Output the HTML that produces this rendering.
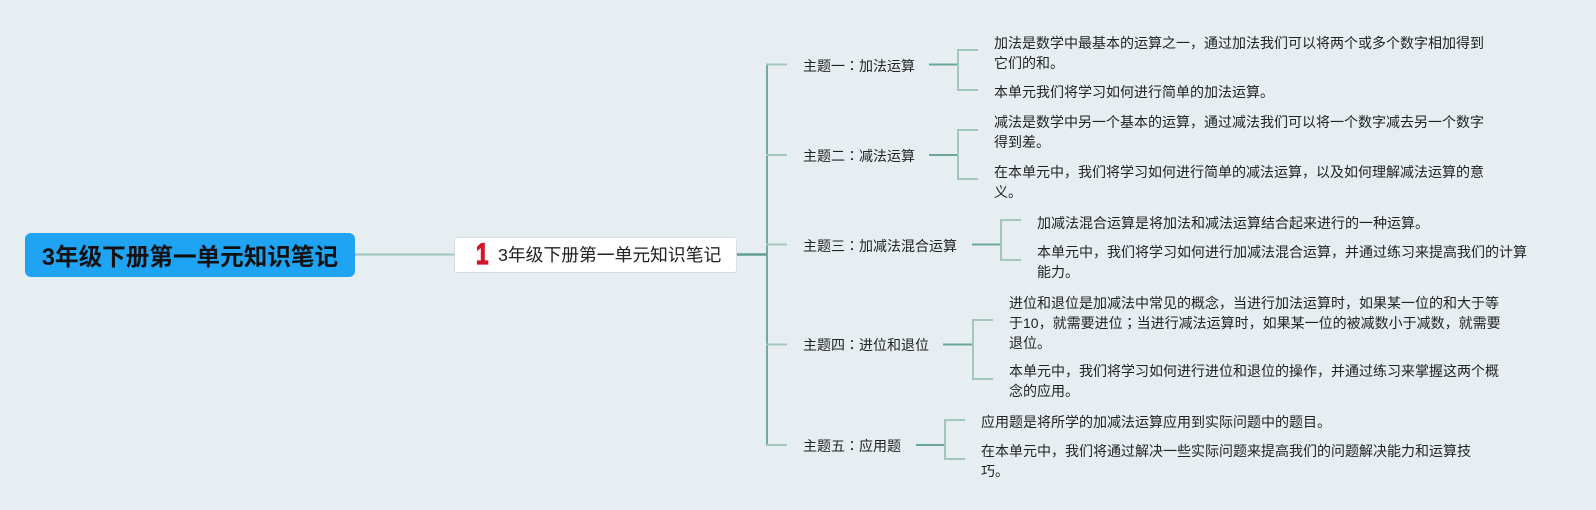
<!DOCTYPE html>
<html>
<head>
<meta charset="utf-8">
<style>
  html,body{margin:0;padding:0;}
  body{width:1596px;height:510px;background:#e7eef2;position:relative;overflow:hidden;
       font-family:"Liberation Sans","Noto Sans CJK SC",sans-serif;color:#222;}
  svg{position:absolute;left:0;top:0;}
  .t{position:absolute;font-size:14px;line-height:20px;white-space:nowrap;color:#222;}
  .p{font-family:"Noto Sans CJK JP","Noto Sans CJK SC",sans-serif;}
  .root{position:absolute;left:25px;top:233px;width:330px;height:44px;background:#1fa4f4;border-radius:6px;
        display:flex;align-items:center;justify-content:center;font-weight:bold;font-size:23.6px;color:#111;white-space:nowrap;}
  .sub{position:absolute;left:454px;top:237px;width:281px;height:34px;background:#fff;border:1px solid #d6dce0;border-radius:3px;
       box-sizing:content-box;}
  .sub .one{position:absolute;left:21px;top:2px;font-family:"Liberation Sans",sans-serif;font-weight:bold;font-size:30px;line-height:30px;color:#d4142b;
            -webkit-text-stroke:1.2px #d4142b;transform:scaleX(0.75);transform-origin:left top;}
  .sub .txt{position:absolute;left:43px;top:5px;font-size:17.8px;line-height:24px;color:#222;white-space:nowrap;}
</style>
</head>
<body>
<svg width="1596" height="510" viewBox="0 0 1596 510">
  <g fill="none" stroke-linecap="butt">
    <line x1="355" y1="254.5" x2="454" y2="254.5" stroke="#9fc4bb" stroke-width="2"/>
    <line x1="736" y1="254.5" x2="768" y2="254.5" stroke="#5f9e8e" stroke-width="2.5"/>
    <line x1="767" y1="63.5" x2="767" y2="446" stroke="#74aa9c" stroke-width="2"/>
    <g stroke="#a3c6bd" stroke-width="2">
      <line x1="766" y1="64.5" x2="787" y2="64.5"/>
      <line x1="766" y1="155" x2="787" y2="155"/>
      <line x1="766" y1="244.5" x2="787" y2="244.5"/>
      <line x1="766" y1="344.5" x2="787" y2="344.5"/>
      <line x1="766" y1="445" x2="787" y2="445"/>
    </g>
    <g stroke="#6ba698" stroke-width="2">
      <line x1="929" y1="64.5" x2="958" y2="64.5"/>
      <line x1="929" y1="155" x2="958" y2="155"/>
      <line x1="972" y1="244.5" x2="1001" y2="244.5"/>
      <line x1="943" y1="344.5" x2="973" y2="344.5"/>
      <line x1="916" y1="445" x2="945" y2="445"/>
    </g>
    <g stroke="#a3c6bd" stroke-width="2">
      <polyline points="978,50 958,50 958,90 978,90"/>
      <polyline points="978,130 958,130 958,179 978,179"/>
      <polyline points="1021,220 1001,220 1001,260 1021,260"/>
      <polyline points="993,320 973,320 973,379 993,379"/>
      <polyline points="965,420 945,420 945,459 965,459"/>
    </g>
  </g>
</svg>

<div class="root">3年级下册第一单元知识笔记</div>

<div class="sub">
  <div class="one">1</div>
  <div class="txt">3年级下册第一单元知识笔记</div>
</div>

<div class="t" style="left:803px;top:56px;">主题一<span class="p">：</span>加法运算</div>
<div class="t" style="left:803px;top:146px;">主题二<span class="p">：</span>减法运算</div>
<div class="t" style="left:803px;top:235.5px;">主题三<span class="p">：</span>加减法混合运算</div>
<div class="t" style="left:803px;top:335px;">主题四<span class="p">：</span>进位和退位</div>
<div class="t" style="left:803px;top:436px;">主题五<span class="p">：</span>应用题</div>

<div class="t" style="left:994px;top:32.7px;">加法是数学中最基本的运算之一，通过加法我们可以将两个或多个数字相加得到</div>
<div class="t" style="left:994px;top:52.7px;">它们的和。</div>
<div class="t" style="left:994px;top:81.7px;">本单元我们将学习如何进行简单的加法运算。</div>

<div class="t" style="left:994px;top:111.7px;">减法是数学中另一个基本的运算，通过减法我们可以将一个数字减去另一个数字</div>
<div class="t" style="left:994px;top:131.7px;">得到差。</div>
<div class="t" style="left:994px;top:161.7px;">在本单元中，我们将学习如何进行简单的减法运算，以及如何理解减法运算的意</div>
<div class="t" style="left:994px;top:181.7px;">义。</div>

<div class="t" style="left:1037px;top:212.7px;">加减法混合运算是将加法和减法运算结合起来进行的一种运算。</div>
<div class="t" style="left:1037px;top:242px;">本单元中，我们将学习如何进行加减法混合运算，并通过练习来提高我们的计算</div>
<div class="t" style="left:1037px;top:262px;">能力。</div>

<div class="t" style="left:1009px;top:293px;">进位和退位是加减法中常见的概念，当进行加法运算时，如果某一位的和大于等</div>
<div class="t" style="left:1009px;top:313px;">于10，就需要进位<span class="p">；</span>当进行减法运算时，如果某一位的被减数小于减数，就需要</div>
<div class="t" style="left:1009px;top:333px;">退位。</div>
<div class="t" style="left:1009px;top:361px;">本单元中，我们将学习如何进行进位和退位的操作，并通过练习来掌握这两个概</div>
<div class="t" style="left:1009px;top:381px;">念的应用。</div>

<div class="t" style="left:981px;top:412px;">应用题是将所学的加减法运算应用到实际问题中的题目。</div>
<div class="t" style="left:981px;top:441px;">在本单元中，我们将通过解决一些实际问题来提高我们的问题解决能力和运算技</div>
<div class="t" style="left:981px;top:461px;">巧。</div>
</body>
</html>
